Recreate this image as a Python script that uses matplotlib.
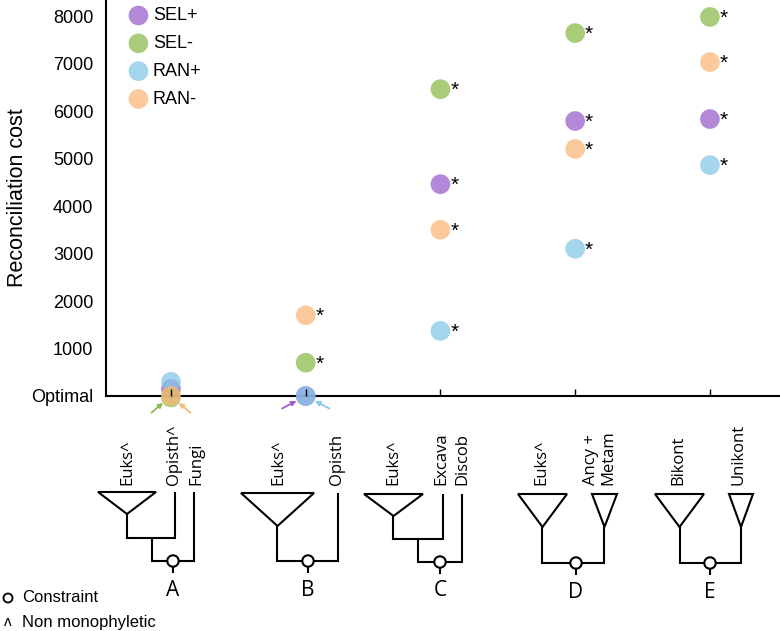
import matplotlib
matplotlib.use("Agg")
import matplotlib.pyplot as plt
from matplotlib.patches import Polygon, Circle

# ---------------- data ----------------
constraints = ["A", "B", "C", "D", "E"]
series_names = ["SEL+", "SEL-", "RAN+", "RAN-"]
sel_plus = [150, 0, 4460, 5790, 5830]
sel_minus = [-30, 700, 6460, 7640, 7980]
ran_plus = [300, 0, 1370, 3100, 4860]
ran_minus = [0, 1700, 3500, 5200, 7030]
sig_sel_plus = [False, False, True, True, True]
sig_sel_minus = [False, True, True, True, True]
sig_ran_plus = [False, False, True, True, True]
sig_ran_minus = [False, True, True, True, True]
ytick_vals = [0, 1000, 2000, 3000, 4000, 5000, 6000, 7000, 8000]
ytick_labels = ["Optimal", "1000", "2000", "3000", "4000", "5000", "6000", "7000", "8000"]

colors = {"SEL+": "#9a60cc", "SEL-": "#8bbb4e", "RAN+": "#84c7e6", "RAN-": "#fcb77a"}
values = {"SEL+": sel_plus, "SEL-": sel_minus, "RAN+": ran_plus, "RAN-": ran_minus}
sigs = {"SEL+": sig_sel_plus, "SEL-": sig_sel_minus, "RAN+": sig_ran_plus, "RAN-": sig_ran_minus}

W, H = 780, 631
fig = plt.figure(figsize=(W / 100, H / 100), dpi=100)
plt.rcParams["font.family"] = ["Liberation Sans", "DejaVu Sans"]

ax = fig.add_axes([106 / W, (H - 396) / H, 1 - 106 / W, 396 / H])
ax.patch.set_alpha(0)
x = list(range(len(constraints)))

ALPHA = 0.75
S = 200
handles = {}
for name in ["SEL+", "RAN+", "SEL-", "RAN-"]:
    h = ax.scatter(x, values[name], s=S, color=colors[name], alpha=ALPHA,
                   edgecolors="none", zorder=3, clip_on=False, label=name)
    handles[name] = h
    for xi, yi, sg in zip(x, values[name], sigs[name]):
        if sg:
            ax.annotate("*", (xi, yi), xytext=(7, -1), textcoords="offset points",
                        ha="left", va="center", fontsize=15, zorder=4)

# small arrows pointing at hidden optimal points
arrow_specs = [(0, "SEL-", (-14, -12)), (0, "RAN-", (14, -12)),
               (1, "SEL+", (-17, -9)), (1, "RAN+", (17, -9))]
for xi, name, off in arrow_specs:
    ax.annotate("", xy=(xi, 0), xytext=off, textcoords="offset points",
                arrowprops=dict(arrowstyle="-|>", color=colors[name], lw=1.3,
                                shrinkA=0, shrinkB=7.5, mutation_scale=7),
                annotation_clip=False)

ax.set_xlim(-0.482, 4.52)
ax.set_ylim(0, 8337)
ax.set_yticks(ytick_vals)
ax.set_yticklabels(ytick_labels, fontsize=13)
ax.set_xticks(x)
ax.tick_params(axis="x", direction="in", length=5, width=1, labelbottom=False)
ax.tick_params(axis="y", length=0, pad=9)
ax.xaxis.set_zorder(5)
for sp in ["top", "right"]:
    ax.spines[sp].set_visible(False)
for sp in ["left", "bottom"]:
    ax.spines[sp].set_linewidth(1.5)
    ax.spines[sp].set_zorder(2)
ax.set_ylabel("Reconciliation cost", fontsize=15.5)
ax.yaxis.set_label_coords(-0.115, 0.5)

leg = ax.legend([handles[n] for n in series_names], series_names, loc="upper left",
                bbox_to_anchor=(0.024, 1.0), frameon=False, fontsize=13,
                handlelength=1.0, handletextpad=0.3, labelspacing=0.6,
                borderaxespad=0.0, markerscale=1.0)

# ---------------- tree schematics (pixel space overlay) ----------------
ov = fig.add_axes([0, 0, 1, 1])
ov.set_xlim(0, W)
ov.set_ylim(H, 0)
ov.axis("off")
LW = 1.5
tf = "Open Sans"


def seg(pts):
    xs, ys = zip(*pts)
    ov.plot(xs, ys, color="black", lw=LW, solid_capstyle="butt", solid_joinstyle="miter")


def tri(l, r, top, apex_y):
    ov.add_patch(Polygon([(l, top), (r, top), ((l + r) / 2, apex_y)], closed=True,
                         fill=False, edgecolor="black", lw=LW))


def node(cx, cy, letter):
    ov.add_patch(Circle((cx, cy), 5.7, facecolor="white", edgecolor="black", lw=LW, zorder=5))
    seg([(cx, cy + 5.7), (cx, cy + 12)])
    ov.text(cx, cy + 29, letter, ha="center", va="center", fontsize=15, family=tf)


def lab(cx, s):
    ov.text(cx, 485, s, rotation=90, ha="center", va="bottom", fontsize=12,
            family=tf, multialignment="left", linespacing=1.1)


# A
tri(98, 156, 492, 514)
seg([(127, 514), (127, 538), (175, 538), (175, 492)])
seg([(152, 538), (152, 561), (194, 561), (194, 492)])
node(173, 561, "A")
lab(127, "Euks^"); lab(174, "Opisth^"); lab(196, "Fungi")
# B
tri(241, 314, 493, 526)
seg([(277, 526), (277, 561), (338, 561), (338, 493)])
node(308, 561, "B")
lab(278, "Euks^"); lab(337, "Opisth")
# C
tri(364, 423, 494, 516)
seg([(393, 516), (393, 539), (443, 539), (443, 494)])
seg([(418, 539), (418, 562), (462, 562), (462, 494)])
node(440, 562, "C")
lab(393, "Euks^"); lab(441, "Excava"); lab(462, "Discob")
# D
tri(518, 567, 494, 527)
tri(592, 617, 494, 527)
seg([(542, 527), (542, 563), (604, 563), (604, 527)])
node(576, 563, "D")
lab(541, "Euks^"); lab(600, "Ancy +\nMetam")
# E
tri(655, 704, 494, 527)
tri(729, 753, 494, 527)
seg([(680, 527), (680, 563), (741, 563), (741, 527)])
node(710, 563, "E")
lab(678, "Bikont"); lab(738, "Unikont")

# key
ov.add_patch(Circle((8, 598), 4.5, facecolor="white", edgecolor="black", lw=1.3))
ov.text(22, 598, "Constraint", ha="left", va="center", fontsize=12)
ov.text(8, 622, "\u028c", ha="center", va="center", fontsize=11,
        family=["Liberation Sans", "DejaVu Sans"])
ov.text(22, 622, "Non monophyletic", ha="left", va="center", fontsize=12)

fig.savefig("out.png", dpi=100)
